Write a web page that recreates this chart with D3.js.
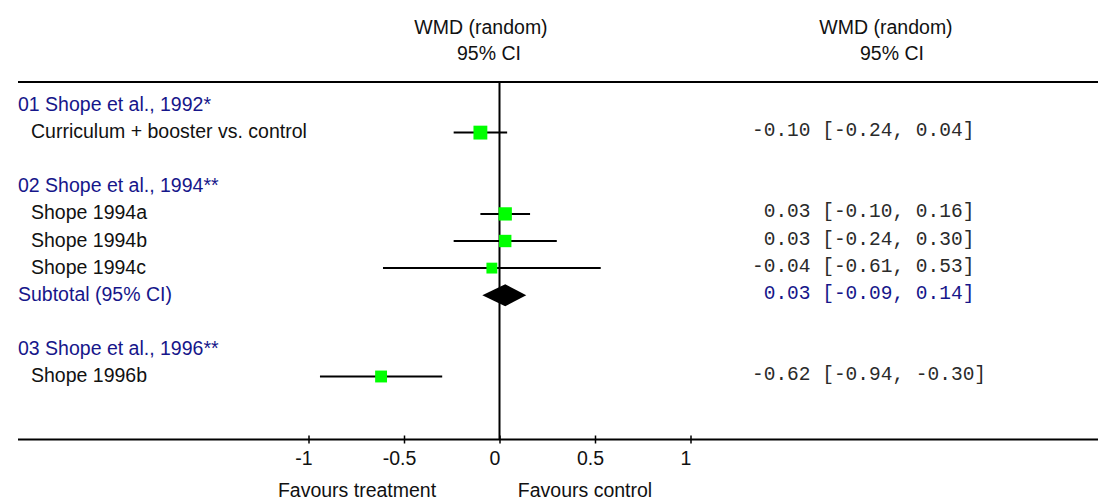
<!DOCTYPE html>
<html>
<head>
<meta charset="utf-8">
<script src="https://cdn.jsdelivr.net/npm/d3@7/dist/d3.min.js"></script>
<style>
  html, body { margin: 0; padding: 0; background: #fff; }
  svg { display: block; }
  text { font-family: "Liberation Sans", Arial, sans-serif; font-size: 19.5px; }
  .mono { font-family: "Liberation Mono", "Courier New", monospace; font-size: 19.5px; white-space: pre; }
</style>
</head>
<body>
<svg id="chart" width="1098" height="500"></svg>
<script>
// ---- data ----
const groupLabels = ["01 Shope et al., 1992*", "02 Shope et al., 1994**", "03 Shope et al., 1996**"];
const studyLabels = ["Curriculum + booster vs. control", "Shope 1994a", "Shope 1994b", "Shope 1994c", "Shope 1996b"];
const studyGroup = [0, 1, 1, 1, 2];
const studyWmd = [-0.10, 0.03, 0.03, -0.04, -0.62];
const studyLow = [-0.24, -0.10, -0.24, -0.61, -0.94];
const studyHigh = [0.04, 0.16, 0.30, 0.53, -0.30];
const studyWeight = [49, 45, 39, 30, 36];
const subtotalLabels = ["Subtotal (95% CI)"];
const subtotalGroup = [1];
const subtotalWmd = [0.03];
const subtotalLow = [-0.09];
const subtotalHigh = [0.14];
const axisTicks = [-1, -0.5, 0, 0.5, 1];
const headerLines = ["WMD (random)", "95% CI"];
const favourLabels = ["Favours treatment", "Favours control"];

// ---- styles ----
const navy = "#16168a";
const ink = "#111";
const numInk = "#2a2a2a";
const boxFill = "#00ff00";

// ---- build row list: group heading, studies, subtotal, blank spacer ----
const rows = [];
groupLabels.forEach((g, gi) => {
  if (gi > 0) rows.push({ type: "blank" });
  rows.push({ type: "group", label: g });
  studyLabels.forEach((s, si) => {
    if (studyGroup[si] === gi) {
      rows.push({ type: "study", label: s, est: studyWmd[si], lo: studyLow[si], hi: studyHigh[si], w: studyWeight[si] });
    }
  });
  subtotalLabels.forEach((s, ti) => {
    if (subtotalGroup[ti] === gi) {
      rows.push({ type: "subtotal", label: s, est: subtotalWmd[ti], lo: subtotalLow[ti], hi: subtotalHigh[ti] });
    }
  });
});
rows.forEach((r, i) => r.idx = i);

const svg = d3.select("#chart");

const x = d3.scaleLinear().domain([-1, 1]).range([308.5, 690.5]);
const y = d3.scalePoint().domain(d3.range(rows.length)).range([104, 375]);
const boxSide = d3.scaleSqrt().domain([0, 50]).range([0, 14]);

const topRule = 82, axisY = 439.5, leftEdge = 18, rightEdge = 1098;
const numX = 752;

// headers
const headerCols = [{ cx: [481, 489] }, { cx: [886, 892] }];
headerCols.forEach(h => {
  headerLines.forEach((t, li) => {
    svg.append("text")
      .attr("x", h.cx[li]).attr("y", 34 + li * 26)
      .attr("text-anchor", "middle").attr("fill", ink)
      .text(t);
  });
});

// top rule
svg.append("line")
  .attr("x1", leftEdge).attr("x2", rightEdge)
  .attr("y1", topRule).attr("y2", topRule)
  .attr("stroke", "#000").attr("stroke-width", 2);

// zero line
svg.append("line")
  .attr("x1", x(0)).attr("x2", x(0))
  .attr("y1", topRule).attr("y2", axisY)
  .attr("stroke", "#000").attr("stroke-width", 2);

// bottom rule + axis
svg.append("line")
  .attr("x1", leftEdge).attr("x2", rightEdge)
  .attr("y1", axisY).attr("y2", axisY)
  .attr("stroke", "#000").attr("stroke-width", 2);

const axis = d3.axisBottom(x).tickValues(axisTicks).tickSize(4).tickPadding(8).tickFormat(d => String(d));
const axG = svg.append("g").attr("transform", `translate(0,${axisY})`).call(axis);
axG.select(".domain").remove();
axG.selectAll(".tick line").attr("y1", -4).attr("y2", 4).attr("stroke", "#000").attr("stroke-width", 1.5);
axG.selectAll(".tick text")
  .attr("font-family", "Liberation Sans, Arial, sans-serif")
  .attr("font-size", 19.5).attr("fill", ink).attr("dx", -5).attr("dy", "0.71em");

// favours labels
svg.append("text").attr("x", 357).attr("y", 497).attr("text-anchor", "middle").attr("fill", ink).text(favourLabels[0]);
svg.append("text").attr("x", 585).attr("y", 497).attr("text-anchor", "middle").attr("fill", ink).text(favourLabels[1]);

// left labels
svg.selectAll("text.lbl").data(rows.filter(r => r.type !== "blank")).join("text")
  .attr("class", "lbl")
  .attr("x", r => r.type === "study" ? 31 : leftEdge)
  .attr("y", r => y(r.idx) + 7)
  .attr("fill", r => r.type === "study" ? ink : navy)
  .text(r => r.label);

// CI lines
const studyRows = rows.filter(r => r.type === "study");
svg.selectAll("line.ci").data(studyRows).join("line")
  .attr("class", "ci")
  .attr("x1", r => x(r.lo)).attr("x2", r => x(r.hi))
  .attr("y1", r => y(r.idx) + 1.5).attr("y2", r => y(r.idx) + 1.5)
  .attr("stroke", "#000").attr("stroke-width", 2);

// weight boxes
svg.selectAll("rect.box").data(studyRows).join("rect")
  .attr("class", "box")
  .attr("x", r => x(r.est) - boxSide(r.w) / 2)
  .attr("y", r => y(r.idx) + 1.5 - boxSide(r.w) / 2)
  .attr("width", r => boxSide(r.w)).attr("height", r => boxSide(r.w))
  .attr("fill", boxFill);

// subtotal diamonds
const subRows = rows.filter(r => r.type === "subtotal");
svg.selectAll("path.diamond").data(subRows).join("path")
  .attr("class", "diamond")
  .attr("d", r => {
    const cy = y(r.idx) + 1.5, h = 11;
    return `M${x(r.lo)},${cy}L${x(r.est)},${cy - h}L${x(r.hi)},${cy}L${x(r.est)},${cy + h}Z`;
  })
  .attr("fill", "#000");

// effect estimates column
const fmtEst = v => (v < 0 ? "-" : " ") + Math.abs(v).toFixed(2);
const fmtCi = v => (v < 0 ? "-" : "") + Math.abs(v).toFixed(2);
svg.selectAll("text.num").data(rows.filter(r => r.type === "study" || r.type === "subtotal")).join("text")
  .attr("class", "num mono")
  .attr("xml:space", "preserve")
  .attr("x", numX)
  .attr("y", r => y(r.idx) + 5)
  .attr("fill", r => r.type === "subtotal" ? navy : numInk)
  .text(r => `${fmtEst(r.est)} [${fmtCi(r.lo)}, ${fmtCi(r.hi)}]`);
</script>
</body>
</html>
